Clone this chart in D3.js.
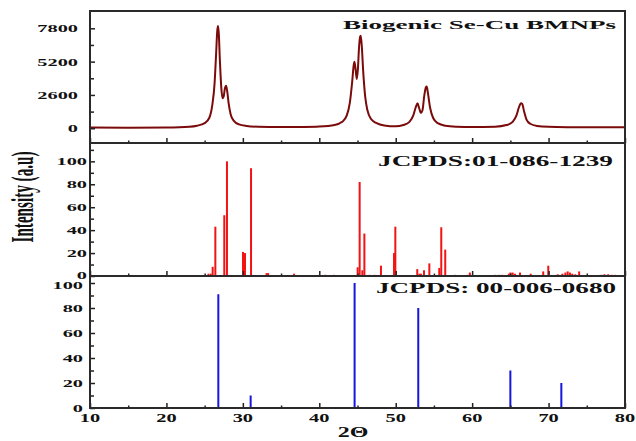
<!DOCTYPE html>
<html>
<head>
<meta charset="utf-8">
<script src="https://cdn.jsdelivr.net/npm/d3@7"></script>
<style>
  body { margin: 0; background: #fff; }
  svg { display: block; }
  text { font-family: "Liberation Serif", "Times New Roman", serif; font-weight: bold; fill: #111; }
</style>
</head>
<body>
<svg id="chart"></svg>
<script>
// ---- data ----
var xrdTheta = [10, 15, 20, 23, 24, 25, 25.6, 26.0, 26.3, 26.5, 26.65, 26.75, 26.85, 27.0, 27.2, 27.35,
    27.5, 27.65, 27.8, 27.95, 28.15, 28.4, 28.8, 29.5, 30.5, 32, 35, 38, 40, 42, 43, 43.6, 44.0, 44.3,
    44.5, 44.6, 44.75, 44.9, 45.05, 45.2, 45.35, 45.42, 45.55, 45.75, 46.0, 46.3, 46.8, 47.5, 48.5, 50,
    51, 51.8, 52.3, 52.6, 52.85, 53.05, 53.3, 53.5, 53.75, 53.95, 54.05, 54.2, 54.5, 54.9, 55.5, 56.5,
    58, 60, 63, 64.5, 65.3, 65.8, 66.1, 66.4, 66.55, 66.8, 67.1, 67.6, 68.5, 70, 73, 76, 80];
var xrdIntensity = [60, 40, 60, 120, 200, 400, 800, 1800, 3500, 5800, 7600, 7980, 7400, 5200, 3000, 2350,
    2500, 3100, 3320, 2900, 1900, 1100, 600, 300, 180, 120, 90, 100, 130, 250, 500, 1000, 2000, 3600,
    4900, 5190, 4600, 3850, 4600, 6300, 7150, 7220, 6500, 4400, 2500, 1400, 700, 400, 220, 150,
    250, 500, 1000, 1600, 1950, 1600, 1200, 1400, 2600, 3200, 3250, 2800, 1600, 800, 400, 200,
    120, 90, 120, 250, 500, 1000, 1600, 1950, 1900, 1300, 700, 350, 180, 110, 80, 70, 80];

var redTheta = [10.1, 20.5, 25.5, 25.8, 26.05, 26.4, 27.57, 27.92, 30.02, 30.28, 31.07, 33.1, 33.3, 36.7,
    40.75, 41.93, 45.02, 45.28, 45.63, 45.9, 46.55, 47.2, 48.07, 49.78, 49.95, 52.82, 53.1, 53.3, 53.7,
    54.4, 55.7, 55.96, 56.48, 57.76, 59.4, 59.7, 63.0, 63.5, 63.9, 64.8, 65.0, 65.3, 65.6, 66.26, 67.66,
    69.3, 69.96, 71.2, 71.8, 72.2, 72.5, 72.8, 73.1, 73.5, 74.0, 76.9, 77.3, 77.8, 78.3, 78.7];
var redIntensity = [1, 0.6, 2, 2, 8, 43, 53, 100, 21, 20, 94, 2.5, 2.5, 2,
    1, 1, 7.6, 82, 5, 37, 1, 1, 9, 20, 43, 6, 2, 2, 5,
    11, 7, 42.5, 23, 1, 1, 3, 1, 1, 1, 2, 3, 3, 2, 3, 2,
    4, 9, 1.5, 2, 3, 4, 3, 2, 1.5, 4, 1, 1.5, 1.5, 1, 1];

var blueTheta = [26.79, 31.02, 44.62, 52.95, 65.0, 71.67];
var blueIntensity = [91, 10, 100, 80, 30, 20];

var xTicks = [10, 20, 30, 40, 50, 60, 70, 80];
var xMinor = [15, 25, 35, 45, 55, 65, 75];
var topTicks = [0, 2600, 5200, 7800];
var topMinor = [1300, 3900, 6500];
var midTicks = [0, 20, 40, 60, 80, 100];
var midMinor = [10, 30, 50, 70, 90, 110];
var botTicks = [0, 20, 40, 60, 80, 100];
var botMinor = [10, 30, 50, 70, 90];

var width = 636, height = 441;
var left = 90, right = 625;

var svg = d3.select('#chart')
    .attr('width', width)
    .attr('height', height);

var x = d3.scaleLinear().domain([10, 80]).range([left, right]);

var yTop = d3.scaleLinear().domain([-1150, 9150]).range([143, 11]);
var yMid = d3.scaleLinear().domain([0, 116]).range([276, 143]);
var yBot = d3.scaleLinear().domain([0, 105.6]).range([408, 276]);

// nudge keeps the crowded "0" / "100" labels at the panel joints apart
var panels = [
    { y: yTop, ticks: topTicks, minor: topMinor, labelX: 78, nudge: {} },
    { y: yMid, ticks: midTicks, minor: midMinor, labelX: 87, nudge: { 0: -1.5 } },
    { y: yBot, ticks: botTicks, minor: botMinor, labelX: 83, nudge: { 100: 1.5 } }
];

// top curve
var line = d3.line()
    .x(function (d) { return x(d[0]); })
    .y(function (d) { return yTop(d[1]); })
    .curve(d3.curveMonotoneX);

svg.append('path')
    .datum(d3.zip(xrdTheta, xrdIntensity))
    .attr('d', line)
    .attr('fill', 'none')
    .attr('stroke', '#7b0a0a')
    .attr('stroke-width', 2);

// middle reference bars
svg.selectAll('.red')
    .data(d3.zip(redTheta, redIntensity))
    .enter()
    .append('rect')
    .classed('red', true)
    .attr('x', function (d) { return x(d[0]) - 1; })
    .attr('width', 2)
    .attr('y', function (d) { return yMid(d[1]); })
    .attr('height', function (d) { return yMid(0) - yMid(d[1]); })
    .attr('fill', '#f21414');

// bottom reference bars
svg.selectAll('.blue')
    .data(d3.zip(blueTheta, blueIntensity))
    .enter()
    .append('rect')
    .classed('blue', true)
    .attr('x', function (d) { return x(d[0]) - 1; })
    .attr('width', 2)
    .attr('y', function (d) { return yBot(d[1]); })
    .attr('height', function (d) { return yBot(0) - yBot(d[1]); })
    .attr('fill', '#1616e0');

// axes for each panel
panels.forEach(function (p, i) {
    var bottom = p.y.range()[0];
    var top = p.y.range()[1];

    svg.append('g')
        .attr('transform', 'translate(0,' + bottom + ')')
        .call(d3.axisBottom(x).tickValues(xTicks).tickSize(-5).tickFormat(''))
        .call(function (g) { g.select('.domain').remove(); });
    svg.append('g')
        .attr('transform', 'translate(0,' + bottom + ')')
        .call(d3.axisBottom(x).tickValues(xMinor).tickSize(-2.5).tickFormat(''))
        .call(function (g) { g.select('.domain').remove(); });

    svg.append('g')
        .attr('transform', 'translate(' + left + ',0)')
        .call(d3.axisLeft(p.y).tickValues(p.ticks).tickSize(-5).tickFormat(''))
        .call(function (g) { g.select('.domain').remove(); });
    svg.append('g')
        .attr('transform', 'translate(' + left + ',0)')
        .call(d3.axisLeft(p.y).tickValues(p.minor).tickSize(-4).tickFormat(''))
        .call(function (g) { g.select('.domain').remove(); });

    svg.selectAll('.ylab' + i)
        .data(p.ticks)
        .enter()
        .append('text')
        .attr('class', 'ylab' + i)
        .attr('transform', function (d) {
            var dy = p.nudge[d] || 0;
            return 'translate(' + p.labelX + ',' + (p.y(d) + 4 + dy) + ') scale(1.85,1)';
        })
        .attr('text-anchor', 'end')
        .style('font-size', '11px')
        .text(function (d) { return d; });

    svg.append('rect')
        .attr('x', left)
        .attr('y', top)
        .attr('width', right - left)
        .attr('height', bottom - top)
        .attr('fill', 'none')
        .attr('stroke', '#2a2a2a')
        .attr('stroke-width', 2);
});

svg.selectAll('.tick line').attr('stroke', '#222').attr('stroke-width', 1.5);

// x tick labels
svg.selectAll('.xlab')
    .data(xTicks)
    .enter()
    .append('text')
    .classed('xlab', true)
    .attr('transform', function (d) { return 'translate(' + x(d) + ',422) scale(1.7,1)'; })
    .attr('text-anchor', 'middle')
    .style('font-size', '12px')
    .text(function (d) { return d; });

// titles
var titles = [
    { text: 'Biogenic Se-Cu BMNPs', x: 343, y: 29, len: 273, fs: 13 },
    { text: 'JCPDS:01-086-1239', x: 378, y: 166, len: 235, fs: 15 },
    { text: 'JCPDS: 00-006-0680', x: 376, y: 293, len: 240, fs: 15 }
];
titles.forEach(function (t) {
    svg.append('text')
        .attr('x', t.x)
        .attr('y', t.y)
        .attr('textLength', t.len)
        .attr('lengthAdjust', 'spacingAndGlyphs')
        .style('font-size', t.fs + 'px')
        .text(t.text);
});

// axis titles
svg.append('text')
    .attr('transform', 'translate(353,437) scale(1.6,1)')
    .attr('text-anchor', 'middle')
    .style('font-size', '15px')
    .text('2\u0398');

svg.append('text')
    .attr('transform', 'translate(33,197) scale(2.2,1) rotate(-90)')
    .attr('text-anchor', 'middle')
    .attr('textLength', 91)
    .attr('lengthAdjust', 'spacingAndGlyphs')
    .style('font-size', '14px')
    .text('Intensity (a.u)');
</script>
</body>
</html>
